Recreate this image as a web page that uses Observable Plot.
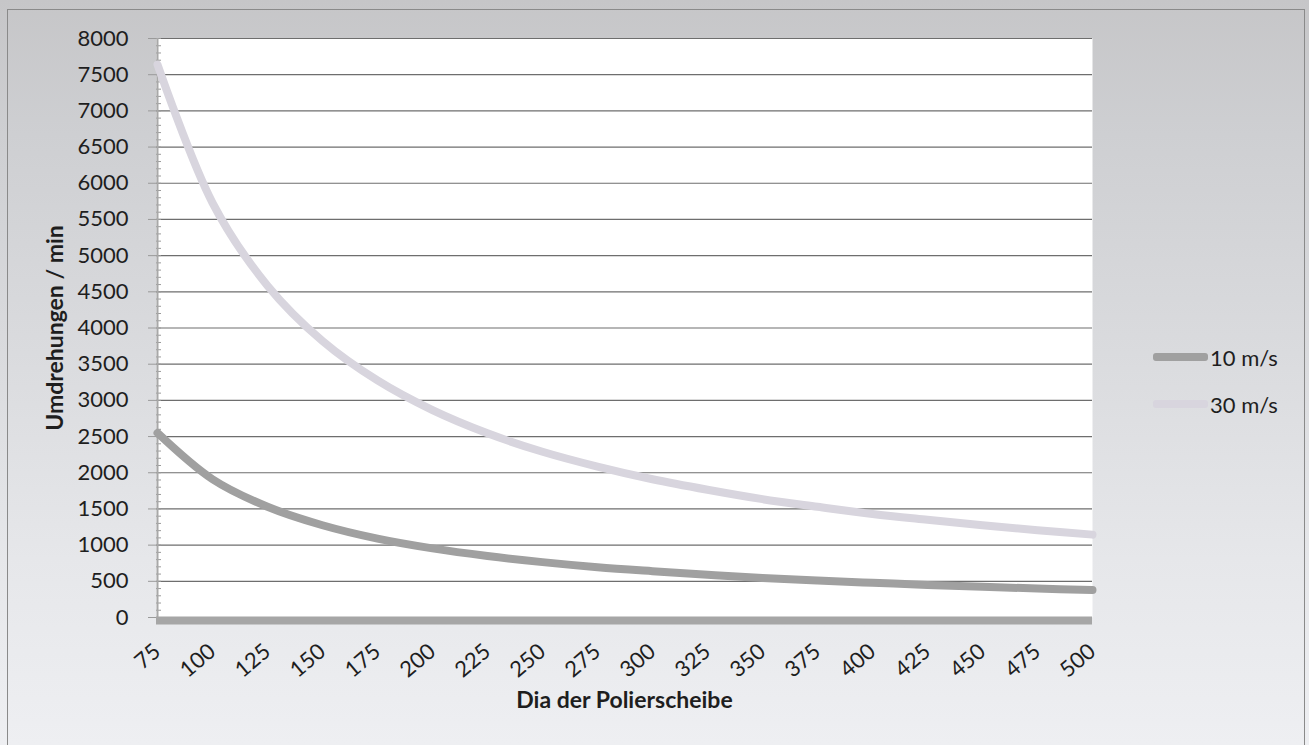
<!DOCTYPE html>
<html>
<head>
<meta charset="utf-8">
<script src="https://cdn.jsdelivr.net/npm/d3@7"></script>
<script src="https://cdn.jsdelivr.net/npm/@observablehq/plot@0.6"></script>
<style>
  html, body { margin: 0; padding: 0; }
  body { width: 1309px; height: 745px; overflow: hidden; font-family: Lato, "Open Sans", sans-serif; }
  #wrap {
    position: relative; width: 1309px; height: 745px;
    background: linear-gradient(to bottom, #c6c6c8 0%, #cecfd2 18%, #d9dadd 45%, #e6e7ea 75%, #eeeff2 100%);
  }
  #border { position: absolute; left: 7px; top: 9px; width: 1298px; height: 760px; border: 1.5px solid #8a8a8a; box-sizing: border-box; pointer-events: none; }
  #chart { position: absolute; left: 0; top: 0; }
  .legend { position: absolute; left: 1153px; font-size: 22px; color: #1e1e1e; }
  .legend div { display: flex; align-items: center; height: 28px; }
  .legend span.sw { display: inline-block; width: 55px; height: 8px; border-radius: 3px; margin-right: 2px; }
</style>
</head>
<body>
<div id="wrap">
  <div id="chart"></div>
  <div id="border"></div>
  <div class="legend" style="top:343px;">
    <div><span class="sw" style="background:#a0a0a0"></span>10 m/s</div>
  </div>
  <div class="legend" style="top:390px;">
    <div><span class="sw" style="background:#d8d5de"></span>30 m/s</div>
  </div>
</div>
<script>
// Data
const diameters = [75, 100, 125, 150, 175, 200, 225, 250, 275, 300, 325, 350, 375, 400, 425, 450, 475, 500];
const rpm10 = [2550, 1910, 1530, 1275, 1090, 955, 850, 765, 695, 640, 590, 545, 510, 480, 450, 425, 400, 380];
const rpm30 = [7640, 5730, 4585, 3820, 3275, 2865, 2545, 2290, 2085, 1910, 1765, 1635, 1530, 1430, 1350, 1275, 1205, 1145];
const yTicks = [0, 500, 1000, 1500, 2000, 2500, 3000, 3500, 4000, 4500, 5000, 5500, 6000, 6500, 7000, 7500, 8000];
const seriesNames = ["10 m/s", "30 m/s"];

const rows10 = diameters.map((d, i) => ({d, v: rpm10[i]}));
const rows30 = diameters.map((d, i) => ({d, v: rpm30[i]}));
const minorTicks = d3.range(0, 8001, 100);

const plot = Plot.plot({
  width: 1309,
  height: 745,
  marginLeft: 156,
  marginRight: 217,
  marginTop: 38,
  marginBottom: 128,
  style: {background: "transparent", fontFamily: "Lato, 'Open Sans', sans-serif", fontSize: "22px", color: "#1e1e1e"},
  x: {type: "point", domain: diameters, padding: 0},
  y: {domain: [0, 8000]},
  marks: [
    Plot.frame({fill: "white", stroke: null}),
    Plot.ruleY(yTicks.slice(1), {stroke: "#6e6e6e", strokeWidth: 1.2}),
    Plot.axisY(minorTicks, {tickSize: 5, dx: 5, text: null, stroke: "#9a9a9a", label: null}),
    Plot.axisY(yTicks, {tickSize: 8, tickPadding: 20, fontSize: 22, stroke: "#9a9a9a", label: null, tickFormat: d => String(d)}),
    Plot.ruleX([diameters[0]], {stroke: "#a8a8a8", strokeWidth: 2}),
    Plot.axisX(diameters, {tickSize: 0, tickPadding: 31, tickRotate: -40, fontSize: 22, label: null, tickFormat: d => String(d)}),
    Plot.ruleY([0], {stroke: "#a6a6a6", strokeWidth: 8, dy: 3}),
    Plot.line(rows30, {x: "d", y: "v", stroke: "#d8d5de", strokeWidth: 8, curve: "catmull-rom"}),
    Plot.line(rows10, {x: "d", y: "v", stroke: "#a0a0a0", strokeWidth: 8, curve: "catmull-rom"}),
    Plot.text(["Dia der Polierscheibe"], {frameAnchor: "bottom", dy: 90, fontWeight: "bold", fontSize: 23, fill: "#1e1e1e"}),
    Plot.text(["Umdrehungen / min"], {frameAnchor: "left", textAnchor: "middle", dx: -101, rotate: -90, fontWeight: "bold", fontSize: 23, fill: "#1e1e1e"})
  ]
});
document.getElementById("chart").appendChild(plot);
</script>
</body>
</html>
